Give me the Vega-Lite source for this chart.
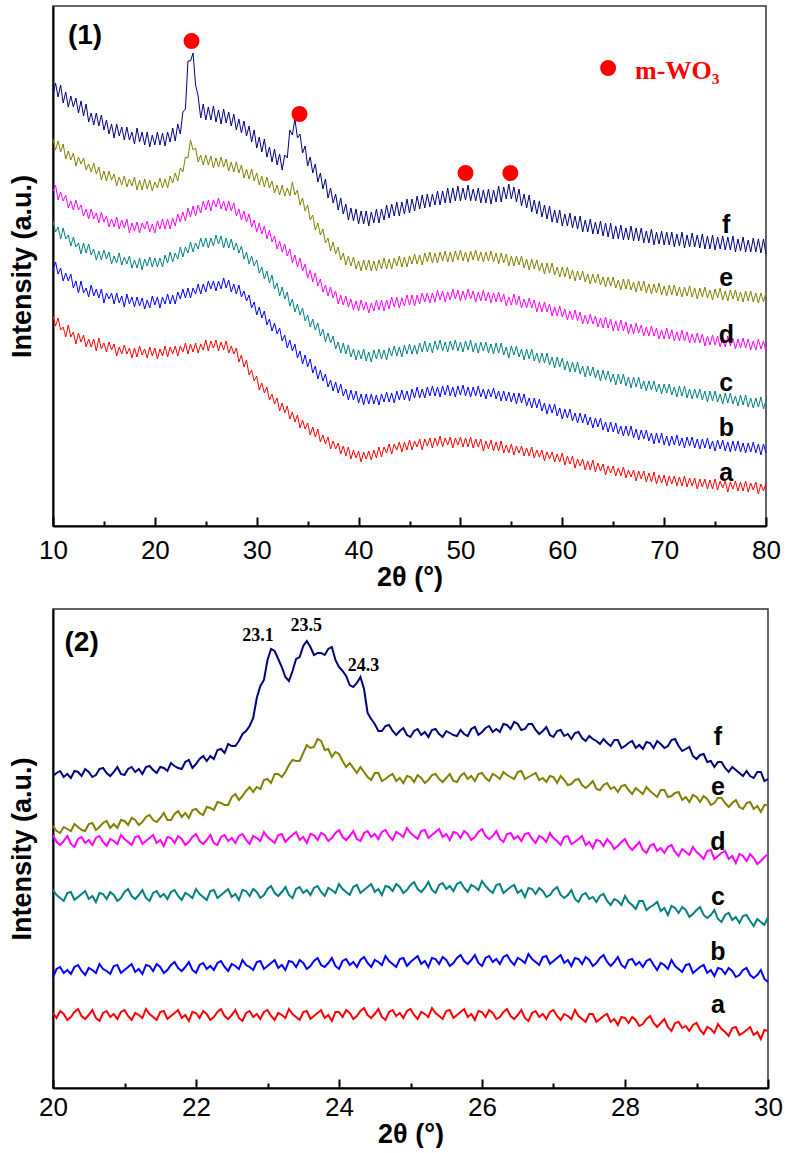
{
  "$schema": "https://vega.github.io/schema/vega-lite/v6.json",
  "background": "white",
  "padding": {"left": 7, "top": 5, "right": 10, "bottom": 0},
  "spacing": 17,
  "config": {
    "view": {"stroke": "#333333", "strokeWidth": 1.5},
    "font": "Liberation Sans",
    "axis": {"grid": false, "labelFont": "Liberation Sans", "titleFont": "Liberation Sans", "labelColor": "#000000", "titleColor": "#000000", "domainColor": "#000000", "tickColor": "#000000"}
  },
  "datasets": {
    "xrd1": [
      {"x":10,"a":210,"b":256,"c":305,"d":335,"e":387,"f":431},
      {"x":10.25,"a":200,"b":264,"c":294,"d":341,"e":376,"f":443},
      {"x":10.5,"a":208,"b":252,"c":299,"d":326,"e":385,"f":429},
      {"x":10.75,"a":196,"b":258,"c":287,"d":334,"e":374,"f":441},
      {"x":11,"a":199,"b":245,"c":298,"d":325,"e":382,"f":423},
      {"x":11.25,"a":189,"b":253,"c":287,"d":331,"e":367,"f":434},
      {"x":11.5,"a":201,"b":245,"c":291,"d":318,"e":375,"f":419},
      {"x":11.75,"a":189,"b":252,"c":280,"d":325,"e":366,"f":430},
      {"x":12,"a":194,"b":238,"c":289,"d":316,"e":373,"f":419},
      {"x":12.25,"a":182,"b":245,"c":279,"d":326,"e":360,"f":428},
      {"x":12.5,"a":193,"b":233,"c":283,"d":316,"e":369,"f":413},
      {"x":12.75,"a":184,"b":245,"c":272,"d":321,"e":362,"f":425},
      {"x":13,"a":191,"b":233,"c":283,"d":310,"e":368,"f":410},
      {"x":13.25,"a":179,"b":238,"c":273,"d":317,"e":356,"f":422},
      {"x":13.5,"a":187,"b":229,"c":282,"d":307,"e":362,"f":404},
      {"x":13.75,"a":179,"b":241,"c":271,"d":317,"e":354,"f":413},
      {"x":14,"a":187,"b":230,"c":277,"d":307,"e":363,"f":401},
      {"x":14.25,"a":175,"b":237,"c":266,"d":313,"e":352,"f":413},
      {"x":14.5,"a":188,"b":228,"c":275,"d":303,"e":359,"f":400},
      {"x":14.75,"a":177,"b":237,"c":266,"d":314,"e":346,"f":411},
      {"x":15,"a":183,"b":223,"c":276,"d":304,"e":355,"f":396},
      {"x":15.25,"a":174,"b":233,"c":267,"d":310,"e":345,"f":406},
      {"x":15.5,"a":184,"b":227,"c":274,"d":299,"e":355,"f":392},
      {"x":15.75,"a":176,"b":233,"c":262,"d":307,"e":346,"f":402},
      {"x":16,"a":182,"b":222,"c":270,"d":299,"e":352,"f":388},
      {"x":16.25,"a":170,"b":233,"c":263,"d":309,"e":340,"f":402},
      {"x":16.5,"a":179,"b":223,"c":273,"d":297,"e":349,"f":390},
      {"x":16.75,"a":172,"b":230,"c":261,"d":306,"e":341,"f":399},
      {"x":17,"a":181,"b":219,"c":269,"d":298,"e":350,"f":386},
      {"x":17.25,"a":172,"b":232,"c":262,"d":307,"e":339,"f":399},
      {"x":17.5,"a":178,"b":222,"c":270,"d":293,"e":347,"f":386},
      {"x":17.75,"a":168,"b":229,"c":258,"d":303,"e":340,"f":394},
      {"x":18,"a":178,"b":219,"c":266,"d":295,"e":349,"f":382},
      {"x":18.25,"a":169,"b":229,"c":258,"d":304,"e":336,"f":398},
      {"x":18.5,"a":180,"b":220,"c":268,"d":293,"e":346,"f":384},
      {"x":18.75,"a":171,"b":228,"c":256,"d":303,"e":336,"f":394},
      {"x":19,"a":177,"b":217,"c":267,"d":297,"e":347,"f":381},
      {"x":19.25,"a":168,"b":226,"c":260,"d":305,"e":337,"f":394},
      {"x":19.5,"a":179,"b":218,"c":269,"d":294,"e":346,"f":379},
      {"x":19.75,"a":170,"b":230,"c":259,"d":302,"e":335,"f":391},
      {"x":20,"a":178,"b":221,"c":268,"d":293,"e":344,"f":381},
      {"x":20.25,"a":167,"b":229,"c":259,"d":305,"e":338,"f":394},
      {"x":20.5,"a":177,"b":218,"c":268,"d":297,"e":348,"f":381},
      {"x":20.75,"a":170,"b":229,"c":259,"d":307,"e":338,"f":393},
      {"x":21,"a":180,"b":222,"c":271,"d":297,"e":347,"f":380},
      {"x":21.25,"a":169,"b":232,"c":263,"d":307,"e":338,"f":394},
      {"x":21.5,"a":179,"b":222,"c":274,"d":297,"e":350,"f":384},
      {"x":21.75,"a":172,"b":231,"c":264,"d":308,"e":343,"f":398},
      {"x":22,"a":180,"b":222,"c":273,"d":300,"e":353,"f":385},
      {"x":22.25,"a":170,"b":234,"c":267,"d":312,"e":345,"f":402},
      {"x":22.5,"a":180,"b":227,"c":279,"d":304,"e":358,"f":392},
      {"x":22.75,"a":174,"b":237,"c":269,"d":314,"e":354,"f":414},
      {"x":23,"a":183,"b":228,"c":279,"d":305,"e":369,"f":417},
      {"x":23.25,"a":172,"b":238,"c":273,"d":318,"e":368,"f":465},
      {"x":23.5,"a":182,"b":228,"c":284,"d":309,"e":386,"f":465},
      {"x":23.75,"a":174,"b":238,"c":274,"d":320,"e":376,"f":473},
      {"x":24,"a":183,"b":232,"c":283,"d":310,"e":378,"f":441},
      {"x":24.25,"a":173,"b":242,"c":277,"d":321,"e":364,"f":430},
      {"x":24.5,"a":182,"b":232,"c":288,"d":313,"e":371,"f":408},
      {"x":24.75,"a":176,"b":242,"c":279,"d":325,"e":361,"f":422},
      {"x":25,"a":186,"b":234,"c":288,"d":316,"e":371,"f":406},
      {"x":25.25,"a":175,"b":245,"c":278,"d":326,"e":361,"f":419},
      {"x":25.5,"a":185,"b":237,"c":288,"d":315,"e":370,"f":406},
      {"x":25.75,"a":178,"b":245,"c":280,"d":326,"e":358,"f":420},
      {"x":26,"a":186,"b":235,"c":291,"d":319,"e":368,"f":404},
      {"x":26.25,"a":175,"b":245,"c":282,"d":328,"e":359,"f":416},
      {"x":26.5,"a":184,"b":237,"c":290,"d":317,"e":369,"f":402},
      {"x":26.75,"a":176,"b":248,"c":278,"d":325,"e":359,"f":417},
      {"x":27,"a":185,"b":238,"c":288,"d":315,"e":367,"f":403},
      {"x":27.25,"a":173,"b":246,"c":278,"d":325,"e":355,"f":414},
      {"x":27.5,"a":180,"b":234,"c":287,"d":315,"e":364,"f":400},
      {"x":27.75,"a":172,"b":242,"c":276,"d":323,"e":354,"f":412},
      {"x":28,"a":178,"b":232,"c":283,"d":310,"e":364,"f":396},
      {"x":28.25,"a":164,"b":241,"c":273,"d":317,"e":353,"f":407},
      {"x":28.5,"a":171,"b":229,"c":280,"d":306,"e":361,"f":393},
      {"x":28.75,"a":159,"b":235,"c":267,"d":315,"e":348,"f":405},
      {"x":29,"a":166,"b":225,"c":274,"d":304,"e":357,"f":390},
      {"x":29.25,"a":151,"b":231,"c":262,"d":312,"e":347,"f":400},
      {"x":29.5,"a":156,"b":218,"c":270,"d":299,"e":357,"f":384},
      {"x":29.75,"a":145,"b":224,"c":260,"d":306,"e":345,"f":396},
      {"x":30,"a":150,"b":211,"c":266,"d":294,"e":353,"f":378},
      {"x":30.25,"a":136,"b":219,"c":253,"d":303,"e":341,"f":389},
      {"x":30.5,"a":143,"b":208,"c":259,"d":292,"e":350,"f":374},
      {"x":30.75,"a":133,"b":215,"c":247,"d":300,"e":339,"f":387},
      {"x":31,"a":139,"b":201,"c":255,"d":287,"e":349,"f":369},
      {"x":31.25,"a":126,"b":207,"c":243,"d":296,"e":338,"f":379},
      {"x":31.5,"a":132,"b":195,"c":251,"d":284,"e":345,"f":364},
      {"x":31.75,"a":122,"b":203,"c":237,"d":290,"e":333,"f":377},
      {"x":32,"a":128,"b":192,"c":243,"d":277,"e":341,"f":361},
      {"x":32.25,"a":115,"b":198,"c":230,"d":285,"e":331,"f":372},
      {"x":32.5,"a":123,"b":185,"c":239,"d":274,"e":341,"f":356},
      {"x":32.75,"a":113,"b":191,"c":227,"d":282,"e":330,"f":371},
      {"x":33,"a":120,"b":178,"c":234,"d":270,"e":338,"f":368},
      {"x":33.25,"a":107,"b":186,"c":220,"d":277,"e":330,"f":396},
      {"x":33.5,"a":114,"b":175,"c":227,"d":263,"e":344,"f":391},
      {"x":33.75,"a":104,"b":182,"c":214,"d":271,"e":331,"f":407},
      {"x":34,"a":111,"b":168,"c":222,"d":259,"e":336,"f":388},
      {"x":34.25,"a":98,"b":175,"c":211,"d":268,"e":321,"f":392},
      {"x":34.5,"a":106,"b":162,"c":218,"d":255,"e":328,"f":373},
      {"x":34.75,"a":97,"b":171,"c":205,"d":262,"e":315,"f":380},
      {"x":35,"a":103,"b":159,"c":211,"d":248,"e":321,"f":360},
      {"x":35.25,"a":91,"b":167,"c":199,"d":256,"e":306,"f":369},
      {"x":35.5,"a":99,"b":153,"c":207,"d":244,"e":311,"f":353},
      {"x":35.75,"a":89,"b":160,"c":196,"d":253,"e":296,"f":362},
      {"x":36,"a":97,"b":147,"c":203,"d":240,"e":303,"f":344},
      {"x":36.25,"a":84,"b":156,"c":190,"d":247,"e":291,"f":353},
      {"x":36.5,"a":91,"b":145,"c":197,"d":234,"e":297,"f":337},
      {"x":36.75,"a":82,"b":152,"c":184,"d":241,"e":283,"f":347},
      {"x":37,"a":89,"b":139,"c":193,"d":230,"e":288,"f":328},
      {"x":37.25,"a":77,"b":146,"c":183,"d":239,"e":275,"f":338},
      {"x":37.5,"a":85,"b":135,"c":190,"d":228,"e":284,"f":323},
      {"x":37.75,"a":77,"b":144,"c":177,"d":235,"e":272,"f":332},
      {"x":38,"a":83,"b":133,"c":184,"d":222,"e":279,"f":316},
      {"x":38.25,"a":72,"b":142,"c":173,"d":231,"e":266,"f":328},
      {"x":38.5,"a":80,"b":130,"c":183,"d":221,"e":273,"f":312},
      {"x":38.75,"a":70,"b":137,"c":172,"d":230,"e":261,"f":322},
      {"x":39,"a":79,"b":126,"c":181,"d":219,"e":270,"f":306},
      {"x":39.25,"a":67,"b":136,"c":169,"d":227,"e":260,"f":318},
      {"x":39.5,"a":76,"b":126,"c":177,"d":216,"e":269,"f":305},
      {"x":39.75,"a":68,"b":135,"c":166,"d":225,"e":257,"f":317},
      {"x":40,"a":75,"b":123,"c":176,"d":215,"e":265,"f":302},
      {"x":40.25,"a":64,"b":132,"c":167,"d":226,"e":255,"f":315},
      {"x":40.5,"a":74,"b":121,"c":177,"d":216,"e":266,"f":302},
      {"x":40.75,"a":67,"b":132,"c":165,"d":224,"e":256,"f":315},
      {"x":41,"a":75,"b":122,"c":174,"d":213,"e":266,"f":300},
      {"x":41.25,"a":66,"b":132,"c":164,"d":223,"e":255,"f":314},
      {"x":41.5,"a":76,"b":122,"c":176,"d":215,"e":265,"f":303},
      {"x":41.75,"a":68,"b":131,"c":167,"d":226,"e":255,"f":317},
      {"x":42,"a":79,"b":121,"c":177,"d":216,"e":266,"f":303},
      {"x":42.25,"a":69,"b":132,"c":167,"d":226,"e":257,"f":317},
      {"x":42.5,"a":79,"b":124,"c":176,"d":215,"e":268,"f":306},
      {"x":42.75,"a":73,"b":134,"c":166,"d":226,"e":257,"f":321},
      {"x":43,"a":82,"b":124,"c":178,"d":217,"e":267,"f":308},
      {"x":43.25,"a":72,"b":133,"c":170,"d":229,"e":257,"f":322},
      {"x":43.5,"a":82,"b":123,"c":180,"d":219,"e":268,"f":310},
      {"x":43.75,"a":76,"b":135,"c":170,"d":229,"e":260,"f":324},
      {"x":44,"a":84,"b":126,"c":179,"d":218,"e":270,"f":310},
      {"x":44.25,"a":74,"b":136,"c":169,"d":228,"e":259,"f":324},
      {"x":44.5,"a":84,"b":126,"c":181,"d":220,"e":269,"f":312},
      {"x":44.75,"a":76,"b":135,"c":172,"d":231,"e":259,"f":327},
      {"x":45,"a":86,"b":125,"c":182,"d":221,"e":270,"f":313},
      {"x":45.25,"a":76,"b":137,"c":172,"d":231,"e":262,"f":327},
      {"x":45.5,"a":85,"b":128,"c":181,"d":220,"e":272,"f":315},
      {"x":45.75,"a":79,"b":139,"c":172,"d":231,"e":262,"f":330},
      {"x":46,"a":87,"b":128,"c":183,"d":222,"e":271,"f":317},
      {"x":46.25,"a":76,"b":137,"c":174,"d":233,"e":261,"f":331},
      {"x":46.5,"a":87,"b":128,"c":185,"d":224,"e":273,"f":318},
      {"x":46.75,"a":80,"b":139,"c":174,"d":233,"e":264,"f":332},
      {"x":47,"a":88,"b":130,"c":183,"d":223,"e":274,"f":319},
      {"x":47.25,"a":78,"b":140,"c":173,"d":233,"e":263,"f":332},
      {"x":47.5,"a":88,"b":130,"c":185,"d":224,"e":273,"f":321},
      {"x":47.75,"a":80,"b":139,"c":176,"d":236,"e":263,"f":335},
      {"x":48,"a":90,"b":129,"c":186,"d":226,"e":274,"f":321},
      {"x":48.25,"a":79,"b":140,"c":175,"d":235,"e":265,"f":335},
      {"x":48.5,"a":88,"b":131,"c":184,"d":224,"e":275,"f":323},
      {"x":48.75,"a":81,"b":141,"c":174,"d":234,"e":264,"f":338},
      {"x":49,"a":89,"b":130,"c":185,"d":226,"e":274,"f":323},
      {"x":49.25,"a":78,"b":139,"c":176,"d":237,"e":264,"f":338},
      {"x":49.5,"a":88,"b":129,"c":186,"d":227,"e":275,"f":325},
      {"x":49.75,"a":81,"b":140,"c":175,"d":236,"e":266,"f":340},
      {"x":50,"a":89,"b":131,"c":184,"d":225,"e":276,"f":325},
      {"x":50.25,"a":79,"b":141,"c":174,"d":235,"e":265,"f":338},
      {"x":50.5,"a":88,"b":130,"c":185,"d":226,"e":274,"f":326},
      {"x":50.75,"a":79,"b":139,"c":176,"d":237,"e":264,"f":341},
      {"x":51,"a":89,"b":129,"c":186,"d":227,"e":275,"f":325},
      {"x":51.25,"a":78,"b":139,"c":174,"d":235,"e":266,"f":337},
      {"x":51.5,"a":87,"b":130,"c":183,"d":224,"e":276,"f":325},
      {"x":51.75,"a":79,"b":140,"c":173,"d":234,"e":265,"f":338},
      {"x":52,"a":87,"b":129,"c":184,"d":225,"e":274,"f":323},
      {"x":52.25,"a":75,"b":137,"c":175,"d":236,"e":264,"f":336},
      {"x":52.5,"a":85,"b":127,"c":184,"d":225,"e":274,"f":323},
      {"x":52.75,"a":77,"b":137,"c":173,"d":234,"e":265,"f":337},
      {"x":53,"a":86,"b":129,"c":182,"d":223,"e":275,"f":322},
      {"x":53.25,"a":75,"b":138,"c":172,"d":233,"e":264,"f":336},
      {"x":53.5,"a":84,"b":127,"c":183,"d":224,"e":273,"f":324},
      {"x":53.75,"a":75,"b":135,"c":173,"d":234,"e":262,"f":340},
      {"x":54,"a":85,"b":125,"c":183,"d":224,"e":273,"f":324},
      {"x":54.25,"a":73,"b":135,"c":171,"d":232,"e":263,"f":339},
      {"x":54.5,"a":81,"b":125,"c":179,"d":220,"e":272,"f":327},
      {"x":54.75,"a":73,"b":134,"c":168,"d":229,"e":260,"f":342},
      {"x":55,"a":82,"b":124,"c":180,"d":221,"e":270,"f":327},
      {"x":55.25,"a":71,"b":133,"c":171,"d":232,"e":260,"f":339},
      {"x":55.5,"a":80,"b":122,"c":180,"d":221,"e":270,"f":324},
      {"x":55.75,"a":73,"b":133,"c":169,"d":230,"e":261,"f":337},
      {"x":56,"a":80,"b":123,"c":177,"d":218,"e":270,"f":320},
      {"x":56.25,"a":70,"b":132,"c":166,"d":227,"e":258,"f":332},
      {"x":56.5,"a":78,"b":120,"c":177,"d":218,"e":267,"f":318},
      {"x":56.75,"a":70,"b":128,"c":167,"d":228,"e":256,"f":331},
      {"x":57,"a":79,"b":118,"c":177,"d":218,"e":267,"f":314},
      {"x":57.25,"a":68,"b":128,"c":165,"d":226,"e":257,"f":326},
      {"x":57.5,"a":76,"b":118,"c":173,"d":214,"e":266,"f":312},
      {"x":57.75,"a":69,"b":127,"c":163,"d":224,"e":255,"f":325},
      {"x":58,"a":76,"b":115,"c":173,"d":214,"e":263,"f":309},
      {"x":58.25,"a":65,"b":123,"c":163,"d":224,"e":252,"f":321},
      {"x":58.5,"a":74,"b":112,"c":173,"d":214,"e":263,"f":307},
      {"x":58.75,"a":67,"b":122,"c":161,"d":222,"e":253,"f":320},
      {"x":59,"a":74,"b":113,"c":169,"d":210,"e":263,"f":304},
      {"x":59.25,"a":64,"b":122,"c":158,"d":219,"e":251,"f":316},
      {"x":59.5,"a":72,"b":110,"c":169,"d":210,"e":259,"f":303},
      {"x":59.75,"a":64,"b":118,"c":159,"d":220,"e":249,"f":316},
      {"x":60,"a":73,"b":107,"c":168,"d":209,"e":259,"f":300},
      {"x":60.25,"a":61,"b":117,"c":156,"d":217,"e":249,"f":312},
      {"x":60.5,"a":70,"b":108,"c":165,"d":206,"e":259,"f":300},
      {"x":60.75,"a":62,"b":117,"c":154,"d":215,"e":247,"f":313},
      {"x":61,"a":70,"b":105,"c":164,"d":206,"e":256,"f":298},
      {"x":61.25,"a":58,"b":113,"c":154,"d":216,"e":245,"f":310},
      {"x":61.5,"a":67,"b":103,"c":164,"d":205,"e":255,"f":297},
      {"x":61.75,"a":60,"b":113,"c":152,"d":214,"e":246,"f":310},
      {"x":62,"a":67,"b":103,"c":160,"d":202,"e":255,"f":294},
      {"x":62.25,"a":56,"b":112,"c":149,"d":211,"e":244,"f":306},
      {"x":62.5,"a":65,"b":101,"c":160,"d":202,"e":252,"f":294},
      {"x":62.75,"a":56,"b":109,"c":150,"d":212,"e":242,"f":307},
      {"x":63,"a":66,"b":98,"c":159,"d":202,"e":252,"f":292},
      {"x":63.25,"a":54,"b":108,"c":148,"d":210,"e":243,"f":304},
      {"x":63.5,"a":63,"b":99,"c":156,"d":199,"e":252,"f":292},
      {"x":63.75,"a":55,"b":108,"c":145,"d":208,"e":241,"f":305},
      {"x":64,"a":62,"b":96,"c":156,"d":198,"e":249,"f":290},
      {"x":64.25,"a":51,"b":104,"c":146,"d":209,"e":239,"f":303},
      {"x":64.5,"a":60,"b":94,"c":155,"d":198,"e":249,"f":289},
      {"x":64.75,"a":53,"b":104,"c":144,"d":207,"e":240,"f":303},
      {"x":65,"a":60,"b":94,"c":152,"d":195,"e":249,"f":287},
      {"x":65.25,"a":50,"b":103,"c":141,"d":205,"e":238,"f":300},
      {"x":65.5,"a":58,"b":92,"c":152,"d":195,"e":246,"f":287},
      {"x":65.75,"a":50,"b":100,"c":142,"d":206,"e":236,"f":301},
      {"x":66,"a":59,"b":90,"c":152,"d":195,"e":247,"f":286},
      {"x":66.25,"a":48,"b":100,"c":140,"d":204,"e":237,"f":298},
      {"x":66.5,"a":56,"b":90,"c":149,"d":192,"e":247,"f":286},
      {"x":66.75,"a":49,"b":100,"c":138,"d":202,"e":236,"f":300},
      {"x":67,"a":56,"b":88,"c":149,"d":192,"e":244,"f":285},
      {"x":67.25,"a":45,"b":97,"c":139,"d":203,"e":234,"f":298},
      {"x":67.5,"a":55,"b":86,"c":149,"d":193,"e":245,"f":285},
      {"x":67.75,"a":47,"b":96,"c":137,"d":201,"e":235,"f":298},
      {"x":68,"a":55,"b":87,"c":145,"d":190,"e":245,"f":283},
      {"x":68.25,"a":44,"b":96,"c":135,"d":199,"e":233,"f":295},
      {"x":68.5,"a":53,"b":85,"c":145,"d":190,"e":242,"f":283},
      {"x":68.75,"a":44,"b":93,"c":136,"d":200,"e":232,"f":297},
      {"x":69,"a":54,"b":82,"c":145,"d":190,"e":242,"f":281},
      {"x":69.25,"a":42,"b":93,"c":134,"d":198,"e":233,"f":294},
      {"x":69.5,"a":51,"b":83,"c":142,"d":187,"e":243,"f":282},
      {"x":69.75,"a":43,"b":93,"c":132,"d":196,"e":231,"f":295},
      {"x":70,"a":51,"b":81,"c":142,"d":187,"e":240,"f":281},
      {"x":70.25,"a":40,"b":90,"c":133,"d":198,"e":230,"f":294},
      {"x":70.5,"a":50,"b":80,"c":142,"d":187,"e":241,"f":281},
      {"x":70.75,"a":42,"b":90,"c":131,"d":196,"e":231,"f":294},
      {"x":71,"a":50,"b":81,"c":139,"d":185,"e":241,"f":279},
      {"x":71.25,"a":40,"b":91,"c":129,"d":194,"e":230,"f":292},
      {"x":71.5,"a":49,"b":80,"c":140,"d":185,"e":239,"f":280},
      {"x":71.75,"a":40,"b":88,"c":130,"d":196,"e":229,"f":294},
      {"x":72,"a":50,"b":78,"c":140,"d":185,"e":239,"f":278},
      {"x":72.25,"a":39,"b":89,"c":128,"d":194,"e":230,"f":291},
      {"x":72.5,"a":48,"b":80,"c":137,"d":183,"e":240,"f":279},
      {"x":72.75,"a":40,"b":89,"c":127,"d":192,"e":229,"f":293},
      {"x":73,"a":48,"b":78,"c":137,"d":183,"e":238,"f":279},
      {"x":73.25,"a":37,"b":87,"c":128,"d":193,"e":227,"f":291},
      {"x":73.5,"a":47,"b":77,"c":137,"d":183,"e":238,"f":278},
      {"x":73.75,"a":39,"b":87,"c":126,"d":192,"e":229,"f":292},
      {"x":74,"a":47,"b":78,"c":135,"d":180,"e":239,"f":277},
      {"x":74.25,"a":37,"b":88,"c":124,"d":190,"e":228,"f":290},
      {"x":74.5,"a":46,"b":77,"c":135,"d":181,"e":236,"f":277},
      {"x":74.75,"a":37,"b":85,"c":125,"d":191,"e":226,"f":291},
      {"x":75,"a":47,"b":75,"c":135,"d":181,"e":237,"f":276},
      {"x":75.25,"a":36,"b":86,"c":124,"d":190,"e":228,"f":289},
      {"x":75.5,"a":45,"b":77,"c":132,"d":179,"e":238,"f":277},
      {"x":75.75,"a":38,"b":86,"c":122,"d":188,"e":226,"f":290},
      {"x":76,"a":45,"b":75,"c":133,"d":179,"e":235,"f":276},
      {"x":76.25,"a":34,"b":84,"c":123,"d":190,"e":225,"f":289},
      {"x":76.5,"a":44,"b":74,"c":133,"d":180,"e":236,"f":276},
      {"x":76.75,"a":37,"b":85,"c":122,"d":188,"e":227,"f":290},
      {"x":77,"a":45,"b":75,"c":130,"d":177,"e":236,"f":274},
      {"x":77.25,"a":35,"b":85,"c":120,"d":187,"e":225,"f":287},
      {"x":77.5,"a":44,"b":74,"c":131,"d":178,"e":234,"f":275},
      {"x":77.75,"a":35,"b":83,"c":121,"d":188,"e":224,"f":289},
      {"x":78,"a":45,"b":73,"c":131,"d":178,"e":235,"f":274},
      {"x":78.25,"a":34,"b":83,"c":119,"d":187,"e":225,"f":286},
      {"x":78.5,"a":43,"b":74,"c":128,"d":176,"e":235,"f":274},
      {"x":78.75,"a":36,"b":84,"c":118,"d":185,"e":224,"f":288},
      {"x":79,"a":44,"b":73,"c":128,"d":176,"e":233,"f":274},
      {"x":79.25,"a":32,"b":82,"c":119,"d":187,"e":223,"f":287},
      {"x":79.5,"a":42,"b":71,"c":129,"d":177,"e":233,"f":273},
      {"x":79.75,"a":35,"b":82,"c":117,"d":185,"e":224,"f":287},
      {"x":80,"a":43,"b":73,"c":126,"d":174,"e":234,"f":272}
    ],
    "xrd2": [
      {"x":20,"a":75,"b":111,"c":198,"d":253,"e":262,"f":312},
      {"x":20.05,"a":70,"b":119,"c":193,"d":246,"e":257,"f":315},
      {"x":20.1,"a":77,"b":121,"c":190,"d":243,"e":255,"f":317},
      {"x":20.15,"a":74,"b":115,"c":187,"d":247,"e":261,"f":311},
      {"x":20.2,"a":68,"b":118,"c":195,"d":252,"e":259,"f":314},
      {"x":20.25,"a":71,"b":114,"c":196,"d":244,"e":257,"f":310},
      {"x":20.3,"a":76,"b":121,"c":188,"d":241,"e":264,"f":317},
      {"x":20.35,"a":79,"b":123,"c":191,"d":249,"e":261,"f":316},
      {"x":20.4,"a":72,"b":117,"c":194,"d":251,"e":258,"f":312},
      {"x":20.45,"a":69,"b":113,"c":197,"d":245,"e":257,"f":319},
      {"x":20.5,"a":73,"b":120,"c":189,"d":248,"e":264,"f":316},
      {"x":20.55,"a":78,"b":118,"c":192,"d":243,"e":265,"f":311},
      {"x":20.6,"a":70,"b":115,"c":186,"d":250,"e":258,"f":313},
      {"x":20.65,"a":67,"b":124,"c":195,"d":252,"e":261,"f":319},
      {"x":20.7,"a":75,"b":119,"c":194,"d":246,"e":265,"f":320},
      {"x":20.75,"a":77,"b":117,"c":189,"d":242,"e":267,"f":315},
      {"x":20.8,"a":71,"b":114,"c":196,"d":249,"e":260,"f":312},
      {"x":20.85,"a":74,"b":122,"c":193,"d":247,"e":264,"f":316},
      {"x":20.9,"a":69,"b":123,"c":187,"d":244,"e":260,"f":321},
      {"x":20.95,"a":76,"b":115,"c":190,"d":253,"e":268,"f":314},
      {"x":21,"a":78,"b":118,"c":196,"d":249,"e":267,"f":313},
      {"x":21.05,"a":72,"b":121,"c":199,"d":246,"e":263,"f":319},
      {"x":21.1,"a":68,"b":124,"c":192,"d":243,"e":270,"f":321},
      {"x":21.15,"a":75,"b":116,"c":189,"d":251,"e":268,"f":316},
      {"x":21.2,"a":73,"b":119,"c":193,"d":252,"e":263,"f":319},
      {"x":21.25,"a":70,"b":114,"c":198,"d":244,"e":266,"f":314},
      {"x":21.3,"a":79,"b":123,"c":190,"d":247,"e":271,"f":321},
      {"x":21.35,"a":74,"b":122,"c":187,"d":250,"e":273,"f":322},
      {"x":21.4,"a":71,"b":117,"c":195,"d":253,"e":268,"f":318},
      {"x":21.45,"a":68,"b":124,"c":197,"d":245,"e":266,"f":315},
      {"x":21.5,"a":76,"b":121,"c":191,"d":248,"e":270,"f":321},
      {"x":21.55,"a":77,"b":115,"c":194,"d":242,"e":275,"f":320},
      {"x":21.6,"a":69,"b":118,"c":189,"d":251,"e":268,"f":317},
      {"x":21.65,"a":72,"b":123,"c":196,"d":250,"e":268,"f":325},
      {"x":21.7,"a":75,"b":126,"c":198,"d":245,"e":274,"f":322},
      {"x":21.75,"a":78,"b":120,"c":192,"d":252,"e":277,"f":320},
      {"x":21.8,"a":70,"b":117,"c":188,"d":249,"e":271,"f":319},
      {"x":21.85,"a":73,"b":121,"c":195,"d":243,"e":275,"f":326},
      {"x":21.9,"a":67,"b":126,"c":193,"d":246,"e":270,"f":328},
      {"x":21.95,"a":76,"b":118,"c":190,"d":251,"e":278,"f":320},
      {"x":22,"a":75,"b":115,"c":199,"d":254,"e":279,"f":324},
      {"x":22.05,"a":70,"b":123,"c":194,"d":247,"e":275,"f":329},
      {"x":22.1,"a":77,"b":125,"c":191,"d":244,"e":273,"f":332},
      {"x":22.15,"a":74,"b":119,"c":188,"d":248,"e":281,"f":327},
      {"x":22.2,"a":68,"b":122,"c":197,"d":253,"e":280,"f":332},
      {"x":22.25,"a":71,"b":118,"c":198,"d":245,"e":278,"f":329},
      {"x":22.3,"a":76,"b":125,"c":190,"d":243,"e":286,"f":338},
      {"x":22.35,"a":79,"b":127,"c":193,"d":251,"e":285,"f":339},
      {"x":22.4,"a":72,"b":121,"c":196,"d":253,"e":283,"f":335},
      {"x":22.45,"a":69,"b":117,"c":199,"d":247,"e":283,"f":344},
      {"x":22.5,"a":73,"b":124,"c":191,"d":250,"e":291,"f":342},
      {"x":22.55,"a":78,"b":122,"c":194,"d":245,"e":294,"f":342},
      {"x":22.6,"a":70,"b":119,"c":188,"d":252,"e":288,"f":347},
      {"x":22.65,"a":67,"b":128,"c":198,"d":254,"e":292,"f":354},
      {"x":22.7,"a":75,"b":123,"c":197,"d":248,"e":297,"f":357},
      {"x":22.75,"a":77,"b":121,"c":192,"d":244,"e":301,"f":362},
      {"x":22.8,"a":71,"b":118,"c":199,"d":252,"e":296,"f":370},
      {"x":22.85,"a":74,"b":126,"c":196,"d":250,"e":301,"f":390},
      {"x":22.9,"a":69,"b":127,"c":190,"d":247,"e":299,"f":402},
      {"x":22.95,"a":76,"b":119,"c":193,"d":256,"e":308,"f":408},
      {"x":23,"a":78,"b":122,"c":199,"d":251,"e":309,"f":428},
      {"x":23.05,"a":72,"b":125,"c":202,"d":248,"e":305,"f":439},
      {"x":23.1,"a":68,"b":128,"c":195,"d":245,"e":314,"f":437},
      {"x":23.15,"a":75,"b":120,"c":192,"d":253,"e":314,"f":429},
      {"x":23.2,"a":73,"b":123,"c":196,"d":254,"e":311,"f":421},
      {"x":23.25,"a":70,"b":118,"c":201,"d":246,"e":316,"f":411},
      {"x":23.3,"a":79,"b":127,"c":193,"d":250,"e":323,"f":407},
      {"x":23.35,"a":74,"b":126,"c":190,"d":253,"e":328,"f":417},
      {"x":23.4,"a":71,"b":121,"c":199,"d":256,"e":327,"f":429},
      {"x":23.45,"a":68,"b":128,"c":201,"d":248,"e":327,"f":431},
      {"x":23.5,"a":76,"b":125,"c":195,"d":251,"e":335,"f":442},
      {"x":23.55,"a":77,"b":119,"c":198,"d":245,"e":343,"f":447},
      {"x":23.6,"a":69,"b":122,"c":193,"d":254,"e":340,"f":441},
      {"x":23.65,"a":72,"b":127,"c":200,"d":253,"e":341,"f":433},
      {"x":23.7,"a":75,"b":130,"c":202,"d":248,"e":349,"f":435},
      {"x":23.75,"a":78,"b":123,"c":196,"d":255,"e":347,"f":435},
      {"x":23.8,"a":70,"b":121,"c":192,"d":253,"e":338,"f":433},
      {"x":23.85,"a":73,"b":125,"c":200,"d":247,"e":339,"f":439},
      {"x":23.9,"a":67,"b":130,"c":198,"d":250,"e":331,"f":441},
      {"x":23.95,"a":76,"b":122,"c":195,"d":255,"e":336,"f":428},
      {"x":24,"a":76,"b":119,"c":204,"d":258,"e":334,"f":421},
      {"x":24.05,"a":71,"b":127,"c":199,"d":251,"e":327,"f":417},
      {"x":24.1,"a":78,"b":129,"c":196,"d":248,"e":321,"f":412},
      {"x":24.15,"a":75,"b":123,"c":193,"d":252,"e":325,"f":403},
      {"x":24.2,"a":69,"b":126,"c":201,"d":257,"e":320,"f":401},
      {"x":24.25,"a":72,"b":121,"c":203,"d":249,"e":315,"f":405},
      {"x":24.3,"a":77,"b":128,"c":195,"d":247,"e":321,"f":411},
      {"x":24.35,"a":80,"b":131,"c":198,"d":255,"e":316,"f":399},
      {"x":24.4,"a":73,"b":125,"c":201,"d":257,"e":311,"f":375},
      {"x":24.45,"a":70,"b":121,"c":204,"d":251,"e":308,"f":369},
      {"x":24.5,"a":74,"b":128,"c":196,"d":254,"e":315,"f":364},
      {"x":24.55,"a":79,"b":126,"c":199,"d":249,"e":315,"f":357},
      {"x":24.6,"a":71,"b":123,"c":193,"d":256,"e":307,"f":357},
      {"x":24.65,"a":68,"b":132,"c":202,"d":258,"e":309,"f":362},
      {"x":24.7,"a":76,"b":127,"c":201,"d":252,"e":312,"f":363},
      {"x":24.75,"a":78,"b":124,"c":197,"d":248,"e":314,"f":357},
      {"x":24.8,"a":72,"b":121,"c":204,"d":256,"e":307,"f":353},
      {"x":24.85,"a":75,"b":129,"c":201,"d":254,"e":310,"f":357},
      {"x":24.9,"a":70,"b":130,"c":195,"d":251,"e":305,"f":360},
      {"x":24.95,"a":77,"b":122,"c":198,"d":260,"e":312,"f":353},
      {"x":25,"a":79,"b":126,"c":203,"d":255,"e":311,"f":351},
      {"x":25.05,"a":73,"b":129,"c":206,"d":252,"e":306,"f":357},
      {"x":25.1,"a":69,"b":132,"c":199,"d":249,"e":313,"f":359},
      {"x":25.15,"a":76,"b":124,"c":196,"d":257,"e":310,"f":353},
      {"x":25.2,"a":74,"b":127,"c":200,"d":258,"e":305,"f":356},
      {"x":25.25,"a":71,"b":121,"c":206,"d":250,"e":308,"f":351},
      {"x":25.3,"a":80,"b":130,"c":198,"d":253,"e":313,"f":358},
      {"x":25.35,"a":75,"b":129,"c":195,"d":256,"e":314,"f":359},
      {"x":25.4,"a":72,"b":124,"c":203,"d":259,"e":309,"f":354},
      {"x":25.45,"a":69,"b":131,"c":205,"d":251,"e":306,"f":351},
      {"x":25.5,"a":77,"b":128,"c":199,"d":254,"e":310,"f":357},
      {"x":25.55,"a":78,"b":122,"c":202,"d":248,"e":314,"f":355},
      {"x":25.6,"a":70,"b":125,"c":197,"d":256,"e":307,"f":353},
      {"x":25.65,"a":73,"b":130,"c":204,"d":255,"e":306,"f":352},
      {"x":25.7,"a":76,"b":133,"c":206,"d":250,"e":312,"f":358},
      {"x":25.75,"a":79,"b":127,"c":200,"d":257,"e":315,"f":354},
      {"x":25.8,"a":71,"b":124,"c":196,"d":254,"e":309,"f":352},
      {"x":25.85,"a":74,"b":128,"c":203,"d":248,"e":312,"f":359},
      {"x":25.9,"a":68,"b":133,"c":201,"d":251,"e":307,"f":361},
      {"x":25.95,"a":77,"b":125,"c":198,"d":256,"e":314,"f":353},
      {"x":26,"a":76,"b":122,"c":207,"d":259,"e":315,"f":356},
      {"x":26.05,"a":71,"b":130,"c":202,"d":252,"e":310,"f":360},
      {"x":26.1,"a":78,"b":132,"c":198,"d":249,"e":307,"f":362},
      {"x":26.15,"a":75,"b":126,"c":195,"d":252,"e":314,"f":356},
      {"x":26.2,"a":69,"b":129,"c":203,"d":257,"e":312,"f":359},
      {"x":26.25,"a":71,"b":124,"c":204,"d":249,"e":309,"f":356},
      {"x":26.3,"a":76,"b":131,"c":195,"d":246,"e":316,"f":364},
      {"x":26.35,"a":79,"b":133,"c":198,"d":254,"e":313,"f":363},
      {"x":26.4,"a":72,"b":127,"c":201,"d":255,"e":311,"f":359},
      {"x":26.45,"a":69,"b":123,"c":203,"d":249,"e":309,"f":366},
      {"x":26.5,"a":73,"b":130,"c":195,"d":252,"e":316,"f":364},
      {"x":26.55,"a":78,"b":128,"c":198,"d":247,"e":317,"f":358},
      {"x":26.6,"a":70,"b":125,"c":191,"d":254,"e":309,"f":359},
      {"x":26.65,"a":67,"b":134,"c":200,"d":255,"e":311,"f":364},
      {"x":26.7,"a":75,"b":129,"c":199,"d":249,"e":313,"f":364},
      {"x":26.75,"a":77,"b":126,"c":194,"d":245,"e":315,"f":358},
      {"x":26.8,"a":71,"b":123,"c":200,"d":252,"e":308,"f":354},
      {"x":26.85,"a":74,"b":131,"c":197,"d":250,"e":310,"f":357},
      {"x":26.9,"a":69,"b":132,"c":191,"d":246,"e":306,"f":361},
      {"x":26.95,"a":76,"b":124,"c":193,"d":255,"e":312,"f":353},
      {"x":27,"a":78,"b":127,"c":198,"d":250,"e":311,"f":351},
      {"x":27.05,"a":72,"b":130,"c":201,"d":247,"e":305,"f":357},
      {"x":27.1,"a":68,"b":133,"c":193,"d":243,"e":312,"f":358},
      {"x":27.15,"a":74,"b":125,"c":190,"d":251,"e":308,"f":352},
      {"x":27.2,"a":72,"b":128,"c":193,"d":252,"e":303,"f":354},
      {"x":27.25,"a":69,"b":122,"c":198,"d":244,"e":304,"f":349},
      {"x":27.3,"a":78,"b":130,"c":189,"d":246,"e":308,"f":355},
      {"x":27.35,"a":72,"b":129,"c":186,"d":249,"e":309,"f":356},
      {"x":27.4,"a":69,"b":124,"c":193,"d":252,"e":303,"f":350},
      {"x":27.45,"a":66,"b":131,"c":195,"d":243,"e":300,"f":347},
      {"x":27.5,"a":74,"b":128,"c":189,"d":246,"e":303,"f":352},
      {"x":27.55,"a":74,"b":122,"c":191,"d":240,"e":307,"f":349},
      {"x":27.6,"a":66,"b":125,"c":186,"d":248,"e":299,"f":347},
      {"x":27.65,"a":69,"b":130,"c":192,"d":247,"e":298,"f":344},
      {"x":27.7,"a":72,"b":133,"c":194,"d":242,"e":303,"f":349},
      {"x":27.75,"a":74,"b":126,"c":187,"d":249,"e":305,"f":345},
      {"x":27.8,"a":66,"b":122,"c":183,"d":245,"e":299,"f":342},
      {"x":27.85,"a":69,"b":126,"c":189,"d":239,"e":301,"f":348},
      {"x":27.9,"a":63,"b":131,"c":187,"d":242,"e":296,"f":348},
      {"x":27.95,"a":71,"b":123,"c":183,"d":246,"e":302,"f":340},
      {"x":28,"a":70,"b":120,"c":192,"d":249,"e":303,"f":342},
      {"x":28.05,"a":65,"b":128,"c":186,"d":242,"e":298,"f":345},
      {"x":28.1,"a":71,"b":129,"c":183,"d":238,"e":294,"f":347},
      {"x":28.15,"a":68,"b":123,"c":179,"d":242,"e":300,"f":340},
      {"x":28.2,"a":62,"b":126,"c":187,"d":246,"e":297,"f":343},
      {"x":28.25,"a":64,"b":121,"c":187,"d":238,"e":294,"f":339},
      {"x":28.3,"a":69,"b":127,"c":178,"d":235,"e":301,"f":346},
      {"x":28.35,"a":72,"b":129,"c":181,"d":242,"e":297,"f":345},
      {"x":28.4,"a":65,"b":123,"c":183,"d":244,"e":294,"f":340},
      {"x":28.45,"a":61,"b":118,"c":186,"d":237,"e":291,"f":347},
      {"x":28.5,"a":65,"b":125,"c":177,"d":240,"e":298,"f":344},
      {"x":28.55,"a":69,"b":123,"c":180,"d":235,"e":298,"f":340},
      {"x":28.6,"a":61,"b":119,"c":173,"d":241,"e":291,"f":342},
      {"x":28.65,"a":57,"b":128,"c":182,"d":243,"e":292,"f":348},
      {"x":28.7,"a":65,"b":122,"c":180,"d":236,"e":295,"f":349},
      {"x":28.75,"a":66,"b":119,"c":175,"d":232,"e":296,"f":342},
      {"x":28.8,"a":60,"b":116,"c":181,"d":239,"e":288,"f":337},
      {"x":28.85,"a":62,"b":123,"c":178,"d":236,"e":291,"f":339},
      {"x":28.9,"a":57,"b":124,"c":171,"d":233,"e":286,"f":341},
      {"x":28.95,"a":63,"b":115,"c":174,"d":241,"e":293,"f":332},
      {"x":29,"a":65,"b":118,"c":178,"d":236,"e":291,"f":329},
      {"x":29.05,"a":58,"b":121,"c":181,"d":233,"e":286,"f":333},
      {"x":29.1,"a":54,"b":123,"c":173,"d":229,"e":292,"f":334},
      {"x":29.15,"a":61,"b":115,"c":170,"d":237,"e":289,"f":326},
      {"x":29.2,"a":59,"b":118,"c":173,"d":238,"e":283,"f":327},
      {"x":29.25,"a":55,"b":112,"c":178,"d":229,"e":285,"f":321},
      {"x":29.3,"a":64,"b":120,"c":169,"d":232,"e":290,"f":326},
      {"x":29.35,"a":59,"b":119,"c":166,"d":235,"e":290,"f":326},
      {"x":29.4,"a":56,"b":114,"c":173,"d":237,"e":285,"f":320},
      {"x":29.45,"a":52,"b":120,"c":175,"d":229,"e":281,"f":316},
      {"x":29.5,"a":60,"b":117,"c":168,"d":232,"e":285,"f":321},
      {"x":29.55,"a":61,"b":111,"c":171,"d":225,"e":288,"f":318},
      {"x":29.6,"a":53,"b":113,"c":165,"d":234,"e":281,"f":315},
      {"x":29.65,"a":55,"b":118,"c":172,"d":232,"e":279,"f":312},
      {"x":29.7,"a":58,"b":120,"c":173,"d":227,"e":285,"f":317},
      {"x":29.75,"a":61,"b":113,"c":167,"d":234,"e":286,"f":312},
      {"x":29.8,"a":53,"b":110,"c":162,"d":230,"e":279,"f":310},
      {"x":29.85,"a":56,"b":113,"c":169,"d":224,"e":282,"f":316},
      {"x":29.9,"a":49,"b":118,"c":166,"d":227,"e":276,"f":316},
      {"x":29.95,"a":58,"b":109,"c":163,"d":231,"e":283,"f":307},
      {"x":30,"a":57,"b":106,"c":171,"d":234,"e":283,"f":309}
    ],
    "names1": [
      {"sample":"f","x":76.1,"intensity":293},
      {"sample":"e","x":76.1,"intensity":240},
      {"sample":"d","x":76.1,"intensity":183},
      {"sample":"c","x":76.1,"intensity":135},
      {"sample":"b","x":76.1,"intensity":90},
      {"sample":"a","x":76.1,"intensity":45}
    ],
    "names2": [
      {"sample":"f","x":29.3,"intensity":343},
      {"sample":"e","x":29.3,"intensity":293},
      {"sample":"d","x":29.3,"intensity":238},
      {"sample":"c","x":29.3,"intensity":183},
      {"sample":"b","x":29.3,"intensity":128},
      {"sample":"a","x":29.3,"intensity":75}
    ],
    "wo3peaks": [
      {"x":23.6,"intensity":485},
      {"x":34.2,"intensity":412},
      {"x":50.5,"intensity":353},
      {"x":54.9,"intensity":353}
    ],
    "wo3key": [
      {"x":64.5,"intensity":458,"phase":"m-WO₃"}
    ],
    "peaks2": [
      {"peak":23.1,"intensity":452},
      {"peak":23.5,"intensity":462},
      {"peak":24.3,"intensity":422}
    ]
  },
  "vconcat": [
    {
      "width": 713,
      "height": 520,
      "resolve": {"axis": {"x": "independent"}},
      "encoding": {
        "y": {"field": "intensity", "type": "quantitative", "scale": {"domain": [0,520], "nice": false, "zero": false},
              "axis": {"title": "Intensity (a.u.)", "labels": false, "ticks": false, "domainWidth": 2, "titleFontSize": 27, "titleFontWeight": "bold", "titlePadding": 17}}
      },
      "layer": [
        {
          "data": {"name": "xrd1"},
          "transform": [{"fold": ["a","b","c","d","e","f"], "as": ["sample","intensity"]}],
          "mark": {"type": "line", "strokeWidth": 1},
          "encoding": {
            "x": {"field": "x", "type": "quantitative", "scale": {"domain": [10,80], "nice": false, "zero": false},
                  "axis": {"orient": "bottom", "values": [10,20,30,40,50,60,70,80], "format": "d", "tickSize": -9, "tickWidth": 2, "domainWidth": 2, "labelFontSize": 26, "labelPadding": 20, "labelFlush": false, "labelOverlap": false, "title": "2θ (°)", "titleFontSize": 27, "titleFontWeight": "bold", "titlePadding": 1}},
            "color": {"field": "sample", "type": "nominal", "scale": {"domain": ["a","b","c","d","e","f"], "range": ["#ff0000","#0000ff","#008080","#ff00ff","#808000","#000080"]}, "legend": null}
          }
        },
        {
          "data": {"name": "names1"},
          "mark": {"type": "text", "font": "Liberation Sans", "fontSize": 25, "fontWeight": "bold", "baseline": "alphabetic", "align": "center", "color": "#000000"},
          "encoding": {
            "x": {"field": "x", "type": "quantitative", "scale": {"domain": [10,80], "nice": false, "zero": false},
                  "axis": {"orient": "bottom", "values": [15,25,35,45,55,65,75], "labels": false, "domain": false, "tickSize": -5, "tickWidth": 2, "title": null}},
            "text": {"field": "sample"}
          }
        },
        {
          "data": {"name": "wo3peaks"},
          "mark": {"type": "circle", "size": 254, "color": "#ff0000", "opacity": 1},
          "encoding": {
            "x": {"field": "x", "type": "quantitative", "scale": {"domain": [10,80], "nice": false, "zero": false}, "axis": null}
          }
        },
        {
          "data": {"name": "wo3key"},
          "mark": {"type": "circle", "size": 254, "color": "#ff0000", "opacity": 1},
          "encoding": {
            "x": {"field": "x", "type": "quantitative", "scale": {"domain": [10,80], "nice": false, "zero": false}, "axis": null}
          }
        },
        {
          "data": {"name": "wo3key"},
          "mark": {"type": "text", "font": "Liberation Serif", "fontSize": 26, "fontWeight": "bold", "align": "left", "baseline": "middle", "dx": 27, "dy": 3, "color": "#ff0000"},
          "encoding": {
            "x": {"field": "x", "type": "quantitative", "scale": {"domain": [10,80], "nice": false, "zero": false}, "axis": null},
            "text": {"field": "phase"}
          }
        },
        {
          "data": {"values": [{"panel": "(1)", "x": 13.15, "intensity": 490}]},
          "mark": {"type": "text", "font": "Liberation Sans", "fontSize": 28, "fontWeight": "bold", "align": "center", "baseline": "middle", "color": "#000000"},
          "encoding": {
            "x": {"field": "x", "type": "quantitative", "scale": {"domain": [10,80], "nice": false, "zero": false}, "axis": null},
            "text": {"field": "panel"}
          }
        }
      ]
    },
    {
      "width": 715,
      "height": 479,
      "resolve": {"axis": {"x": "independent"}},
      "encoding": {
        "y": {"field": "intensity", "type": "quantitative", "scale": {"domain": [0,479], "nice": false, "zero": false},
              "axis": {"title": "Intensity (a.u.)", "labels": false, "ticks": false, "domainWidth": 2, "titleFontSize": 27, "titleFontWeight": "bold", "titlePadding": 17}}
      },
      "layer": [
        {
          "data": {"name": "xrd2"},
          "transform": [{"fold": ["a","b","c","d","e","f"], "as": ["sample","intensity"]}],
          "mark": {"type": "line", "strokeWidth": 2},
          "encoding": {
            "x": {"field": "x", "type": "quantitative", "scale": {"domain": [20,30], "nice": false, "zero": false},
                  "axis": {"orient": "bottom", "values": [20,22,24,26,28,30], "format": "d", "tickSize": -9, "tickWidth": 2, "domainWidth": 2, "labelFontSize": 26, "labelPadding": 15, "labelFlush": false, "labelOverlap": false, "title": "2θ (°)", "titleFontSize": 27, "titleFontWeight": "bold", "titlePadding": 1}},
            "color": {"field": "sample", "type": "nominal", "scale": {"domain": ["a","b","c","d","e","f"], "range": ["#ff0000","#0000ff","#008080","#ff00ff","#808000","#000080"]}, "legend": null}
          }
        },
        {
          "data": {"name": "names2"},
          "mark": {"type": "text", "font": "Liberation Sans", "fontSize": 25, "fontWeight": "bold", "baseline": "alphabetic", "align": "center", "color": "#000000"},
          "encoding": {
            "x": {"field": "x", "type": "quantitative", "scale": {"domain": [20,30], "nice": false, "zero": false},
                  "axis": {"orient": "bottom", "values": [21,23,25,27,29], "labels": false, "domain": false, "tickSize": -5, "tickWidth": 2, "title": null}},
            "text": {"field": "sample"}
          }
        },
        {
          "data": {"name": "peaks2"},
          "transform": [{"filter": "datum.peak < 23.3"}],
          "mark": {"type": "text", "font": "Liberation Serif", "fontSize": 18, "fontWeight": "bold", "align": "right", "baseline": "middle", "dx": -1, "color": "#000000"},
          "encoding": {
            "x": {"field": "peak", "type": "quantitative", "scale": {"domain": [20,30], "nice": false, "zero": false}, "axis": null},
            "text": {"field": "peak", "format": ".1f"}
          }
        },
        {
          "data": {"name": "peaks2"},
          "transform": [{"filter": "datum.peak > 23.3"}],
          "mark": {"type": "text", "font": "Liberation Serif", "fontSize": 18, "fontWeight": "bold", "align": "center", "baseline": "middle", "dx": 3, "color": "#000000"},
          "encoding": {
            "x": {"field": "peak", "type": "quantitative", "scale": {"domain": [20,30], "nice": false, "zero": false}, "axis": null},
            "text": {"field": "peak", "format": ".1f"}
          }
        },
        {
          "data": {"values": [{"panel": "(2)", "x": 20.4, "intensity": 445}]},
          "mark": {"type": "text", "font": "Liberation Sans", "fontSize": 28, "fontWeight": "bold", "align": "center", "baseline": "middle", "color": "#000000"},
          "encoding": {
            "x": {"field": "x", "type": "quantitative", "scale": {"domain": [20,30], "nice": false, "zero": false}, "axis": null},
            "text": {"field": "panel"}
          }
        }
      ]
    }
  ]
}
